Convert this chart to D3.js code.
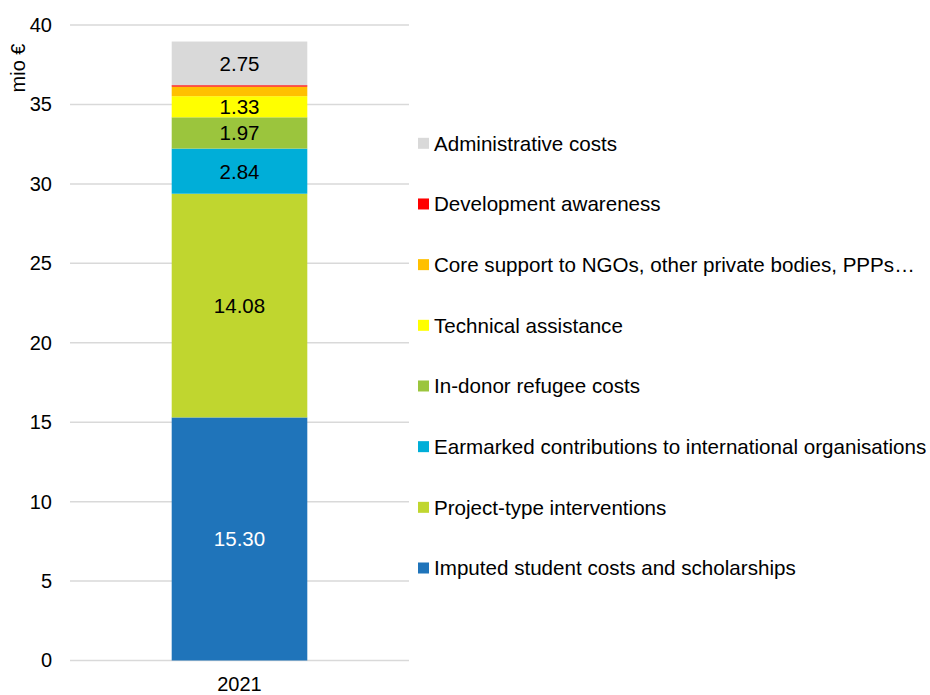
<!DOCTYPE html>
<html>
<head>
<meta charset="utf-8">
<script src="https://cdn.jsdelivr.net/npm/d3@7"></script>
<style>
  html, body { margin: 0; padding: 0; background: #fff; }
  svg { display: block; font-family: "Liberation Sans", Arial, sans-serif; }
</style>
</head>
<body>
<svg id="chart" width="930" height="695"></svg>
<script>
// ---- data ----
const categories = ["2021"];
const seriesNames = [
  "Imputed student costs and scholarships",
  "Project-type interventions",
  "Earmarked contributions to international organisations",
  "In-donor refugee costs",
  "Technical assistance",
  "Core support to NGOs, other private bodies, PPPs…",
  "Development awareness",
  "Administrative costs"
];
const seriesValues = [15.30, 14.08, 2.84, 1.97, 1.33, 0.60, 0.09, 2.75];
const seriesColors = ["#1F74BA", "#C0D62F", "#00AED8", "#9BC53D", "#FFFF00", "#FFC000", "#FF0000", "#D9D9D9"];
const showLabel = [true, true, true, true, true, false, false, true];
const labelColors = ["#FFFFFF", "#000000", "#000000", "#000000", "#000000", "#000000", "#000000", "#000000"];
const yTicks = [0, 5, 10, 15, 20, 25, 30, 35, 40];
const yTitle = "mio €";

// ---- layout ----
const svg = d3.select("#chart");
const plot = { left: 70, right: 409, top: 25, bottom: 660.5 };

const x = d3.scaleBand().domain(categories).range([plot.left, plot.right]).paddingInner(0.6).paddingOuter(0.3);
const y = d3.scaleLinear().domain([0, 40]).range([plot.bottom, plot.top]);

// gridlines
svg.append("g").selectAll("line").data(yTicks).join("line")
  .attr("x1", plot.left).attr("x2", plot.right)
  .attr("y1", d => y(d)).attr("y2", d => y(d))
  .attr("stroke", "#D9D9D9").attr("stroke-width", 1.5);

// y axis labels
const yAxis = d3.axisLeft(y).tickValues(yTicks).tickSize(0).tickPadding(18).tickFormat(d3.format("d"));
const yG = svg.append("g").attr("transform", `translate(${plot.left},0)`).call(yAxis);
yG.select(".domain").remove();
yG.selectAll("text").attr("font-size", 20).attr("fill", "#000")
  .attr("font-family", "Liberation Sans, Arial, sans-serif");

// y title
svg.append("text")
  .attr("transform", `translate(25,68) rotate(-90)`)
  .attr("text-anchor", "middle")
  .attr("font-size", 20).attr("fill", "#000")
  .text(yTitle);

// stack
const rows = categories.map((c) => {
  const o = { cat: c };
  seriesNames.forEach((s, i) => o[s] = seriesValues[i]);
  return o;
});
const stacked = d3.stack().keys(seriesNames)(rows);

const segG = svg.append("g");
stacked.forEach((layer, i) => {
  segG.selectAll(null).data(layer).join("rect")
    .attr("x", d => x(d.data.cat))
    .attr("width", x.bandwidth())
    .attr("y", d => y(d[1]))
    .attr("height", d => y(d[0]) - y(d[1]))
    .attr("fill", seriesColors[i]);
  if (showLabel[i]) {
    segG.selectAll(null).data(layer).join("text")
      .attr("x", d => x(d.data.cat) + x.bandwidth() / 2)
      .attr("y", d => (y(d[0]) + y(d[1])) / 2)
      .attr("dy", "0.36em")
      .attr("text-anchor", "middle")
      .attr("font-size", 20.5)
      .attr("fill", labelColors[i])
      .text(d => d3.format(".2f")(d[1] - d[0]));
  }
});

// x axis labels
const xAxis = d3.axisBottom(x).tickSize(0).tickPadding(16);
const xG = svg.append("g").attr("transform", `translate(0,${plot.bottom})`).call(xAxis);
xG.select(".domain").remove();
xG.selectAll("text").attr("font-size", 20).attr("fill", "#000")
  .attr("font-family", "Liberation Sans, Arial, sans-serif");

// legend (reverse order, top = last series)
const legendOrder = seriesNames.map((s, i) => i).reverse();
const leg = svg.append("g");
const legY = d3.scalePoint().domain(legendOrder).range([143.3, 568]);
legendOrder.forEach((i) => {
  const cy = legY(i);
  leg.append("rect").attr("x", 418).attr("y", cy - 5.5).attr("width", 11).attr("height", 11)
    .attr("fill", seriesColors[i]);
  leg.append("text").attr("x", 434).attr("y", cy).attr("dy", "0.36em")
    .attr("font-size", 20.6).attr("fill", "#000")
    .text(seriesNames[i]);
});
</script>
</body>
</html>
